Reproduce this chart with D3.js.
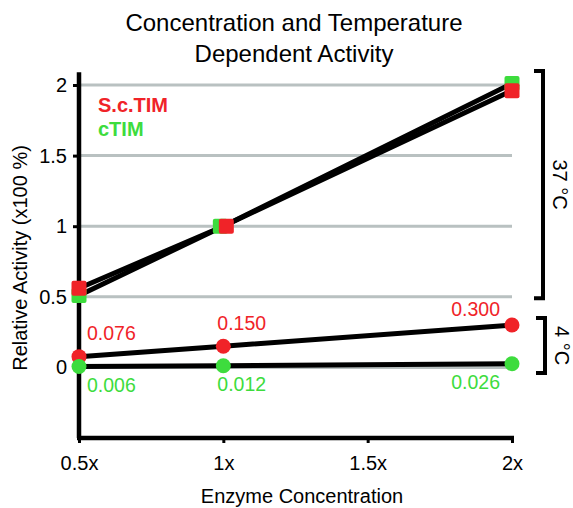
<!DOCTYPE html>
<html>
<head>
<meta charset="utf-8">
<script src="https://cdn.jsdelivr.net/npm/d3@7"></script>
<style>
  body { margin: 0; background: #fff; }
  text { font-family: "Liberation Sans", Arial, sans-serif; }
</style>
</head>
<body>
<script>
// data
var concentrations = [0.5, 1, 2];
var xTicks = [0.5, 1, 1.5, 2];
var xTickLabels = ['0.5x', '1x', '1.5x', '2x'];
var yTicks = [0, 0.5, 1, 1.5, 2];

var sc37 = [0.56, 1.0, 1.96];
var ctim37 = [0.51, 1.0, 2.01];
var sc4 = [0.076, 0.150, 0.300];
var ctim4 = [0.006, 0.012, 0.026];
var sc4Labels = ['0.076', '0.150', '0.300'];
var ctim4Labels = ['0.006', '0.012', '0.026'];

var red = '#f02328';
var green = '#3ddc3d';

var width = 573, height = 508;

var svg = d3.select('body').append('svg')
  .attr('width', width)
  .attr('height', height);

var x = d3.scaleLinear().domain([0.5, 2]).range([79, 512]);
var y = d3.scaleLinear().domain([-0.5, 2]).range([438, 85]);

// title
svg.append('text').attr('x', 294).attr('y', 31).attr('text-anchor', 'middle')
  .attr('font-size', 24).text('Concentration and Temperature');
svg.append('text').attr('x', 294).attr('y', 62).attr('text-anchor', 'middle')
  .attr('font-size', 24).text('Dependent Activity');

// grid
svg.selectAll('line.grid').data(yTicks).enter().append('line')
  .attr('class', 'grid')
  .attr('x1', x(0.5)).attr('x2', x(2))
  .attr('y1', function(d) { return y(d); })
  .attr('y2', function(d) { return y(d); })
  .attr('stroke', '#b9c1c1')
  .attr('stroke-width', 3);

// y axis
var yAxis = d3.axisLeft(y).tickValues(yTicks).tickSize(6).tickPadding(6)
  .tickFormat(function(d) { return d3.format('')(d); });
var gy = svg.append('g').attr('transform', 'translate(' + x(0.5) + ',0)').call(yAxis);
gy.select('.domain').remove();
gy.selectAll('.tick line').attr('stroke', '#000').attr('stroke-width', 3);
gy.selectAll('.tick text').attr('font-size', 20).attr('fill', '#000')
  .attr('font-family', '"Liberation Sans", Arial, sans-serif');
svg.append('line')
  .attr('x1', x(0.5)).attr('x2', x(0.5))
  .attr('y1', y(2.09)).attr('y2', y(-0.5))
  .attr('stroke', '#000').attr('stroke-width', 4.5);

// x axis
var xAxis = d3.axisBottom(x).tickValues(xTicks).tickSize(5).tickPadding(13)
  .tickFormat(function(d, i) { return xTickLabels[i]; });
var gx = svg.append('g').attr('transform', 'translate(0,' + y(-0.5) + ')').call(xAxis);
gx.select('.domain').remove();
gx.selectAll('.tick line').attr('stroke', '#000').attr('stroke-width', 3);
gx.selectAll('.tick text').attr('font-size', 20).attr('fill', '#000')
  .attr('font-family', '"Liberation Sans", Arial, sans-serif');
svg.append('line')
  .attr('x1', x(0.5) - 2).attr('x2', x(2) + 2)
  .attr('y1', y(-0.5)).attr('y2', y(-0.5))
  .attr('stroke', '#000').attr('stroke-width', 4.5);

// axis titles
svg.append('text').attr('x', 302).attr('y', 503).attr('text-anchor', 'middle')
  .attr('font-size', 20).text('Enzyme Concentration');
svg.append('text')
  .attr('transform', 'translate(27,258) rotate(-90)')
  .attr('text-anchor', 'middle')
  .attr('font-size', 20).text('Relative Activity (x100 %)');

// lines
var line = d3.line()
  .x(function(d, i) { return x(concentrations[i]); })
  .y(function(d) { return y(d); });

[sc37, ctim37, sc4, ctim4].forEach(function(series) {
  svg.append('path').datum(series)
    .attr('d', line)
    .attr('fill', 'none')
    .attr('stroke', '#000')
    .attr('stroke-width', 5);
});

// 37 C squares (small horizontal dodge at 1x, where they coincide)
var sq = 15;
function squares(series, color, dodge) {
  svg.selectAll(null).data(series).enter().append('rect')
    .attr('x', function(d, i) { return x(concentrations[i]) - sq / 2 + (i === 1 ? dodge : 0); })
    .attr('y', function(d) { return y(d) - sq / 2; })
    .attr('width', sq).attr('height', sq)
    .attr('rx', 2)
    .attr('fill', color);
}
squares(ctim37, green, -3);
squares(sc37, red, 3);

// 4 C circles
function circles(series, color) {
  svg.selectAll(null).data(series).enter().append('circle')
    .attr('cx', function(d, i) { return x(concentrations[i]); })
    .attr('cy', function(d) { return y(d); })
    .attr('r', 7.5)
    .attr('fill', color);
}
circles(sc4, red);
circles(ctim4, green);

// value labels
var labelDx = [8, -6, -12];
var redDy = [-17, -16, -9];
svg.selectAll(null).data(sc4).enter().append('text')
  .attr('x', function(d, i) { return x(concentrations[i]) + labelDx[i]; })
  .attr('y', function(d, i) { return y(d) + redDy[i]; })
  .attr('text-anchor', function(d, i) { return i === 2 ? 'end' : 'start'; })
  .attr('font-size', 19.5)
  .attr('fill', red)
  .text(function(d, i) { return sc4Labels[i]; });

svg.selectAll(null).data(ctim4).enter().append('text')
  .attr('x', function(d, i) { return x(concentrations[i]) + labelDx[i]; })
  .attr('y', function(d) { return y(d) + 25; })
  .attr('text-anchor', function(d, i) { return i === 2 ? 'end' : 'start'; })
  .attr('font-size', 19.5)
  .attr('fill', green)
  .text(function(d, i) { return ctim4Labels[i]; });

// legend
svg.append('text').attr('x', 98).attr('y', 112).attr('font-size', 20)
  .attr('font-weight', 'bold').attr('fill', red).text('S.c.TIM');
svg.append('text').attr('x', 98).attr('y', 136).attr('font-size', 20)
  .attr('font-weight', 'bold').attr('fill', green).text('cTIM');

// brackets
function bracket(top, bottom, bx, label) {
  svg.append('path')
    .attr('d', 'M' + (bx - 9) + ',' + top + 'H' + bx + 'V' + bottom + 'H' + (bx - 9))
    .attr('fill', 'none').attr('stroke', '#000').attr('stroke-width', 4);
  svg.append('text')
    .attr('transform', 'translate(' + (bx + 10) + ',' + ((top + bottom) / 2) + ') rotate(90)')
    .attr('text-anchor', 'middle')
    .attr('font-size', 20)
    .text(label);
}
bracket(y(2.1), y(0.49), 543, '37 °C');
bracket(y(0.35), y(-0.04), 545, '4 °C');
</script>
</body>
</html>
